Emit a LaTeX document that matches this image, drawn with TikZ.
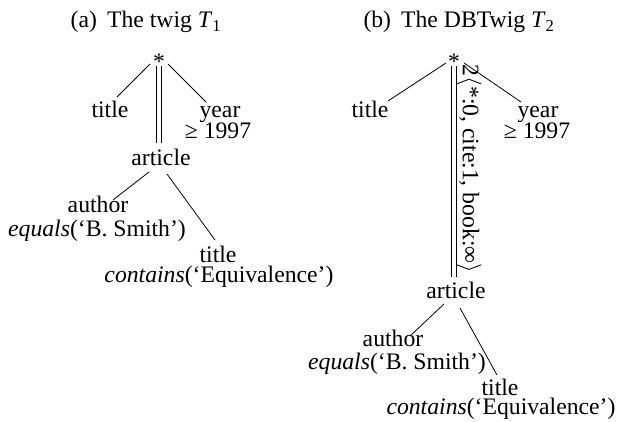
\documentclass[tikz,border=0pt]{standalone}
\usepackage{fontspec}
\setmainfont{Liberation Serif}
\usetikzlibrary{calc}
\begin{document}
\begin{tikzpicture}[x=1pt,y=-1pt,
  txt/.style={anchor=base,inner sep=0pt,font=\fontsize{23.7}{20}\selectfont},
  edge/.style={line width=0.8pt},
  dbl/.style={double,double distance=3.6pt,line width=0.8pt}]
\useasboundingbox (0,0) rectangle (618,422);
% ---------- (a) ----------
\node[txt] (capA) at (146,28) {(a)\hspace{10pt}The twig \textit{T}\textsubscript{1}};
\node[txt] (starA) at (159,70) {*};
\node[txt] (titleA) at (110,118) {title};
\node[txt] (yearA) at (220,118) {year};
\node[txt] (geqA) at (218,139) {≥ 1997};
\node[txt] (artA) at (161,166) {article};
\node[txt] (authA) at (98,212) {author};
\node[txt] (eqA) at (97,236) {\textit{equals}(‘B. Smith’)};
\node[txt] (titA2) at (218,262) {title};
\node[txt] (conA) at (219,282) {\textit{contains}(‘Equivalence’)};
\draw[edge] ($(starA.base)+(-9,-6)$) -- ($(titleA.base)+(7,-21)$);
\draw[edge] ($(starA.base)+(9,-6)$) -- ($(yearA.base)+(-14,-16)$);
\draw[dbl] ($(starA.base)+(0,-4)$) -- ($(artA.base)+(-2,-23)$);
\draw[edge] ($(artA.base)+(-12,6)$) -- ($(authA.base)+(15,-12)$);
\draw[edge] ($(artA.base)+(6,8)$) -- ($(titA2.base)+(-3,-22)$);
% ---------- (b) ----------
\node[txt] (capB) at (459,28) {(b)\hspace{10pt}The DBTwig \textit{T}\textsubscript{2}};
\node[txt] (starB) at (454,70) {*};
\node[txt] (titleB) at (370,118) {title};
\node[txt] (yearB) at (538,118) {year};
\node[txt] (geqB) at (537,139) {≥ 1997};
\node[txt] (artB) at (456,298) {article};
\node[txt] (authB) at (393,346) {author};
\node[txt] (eqB) at (397,369) {\textit{equals}(‘B. Smith’)};
\node[txt] (titB2) at (500,395) {title};
\node[txt] (conB) at (501,414) {\textit{contains}(‘Equivalence’)};
\draw[edge] ($(starB.base)+(-8,-7)$) -- ($(titleB.base)+(18,-17)$);
\draw[edge] ($(starB.base)+(10,-7)$) -- ($(yearB.base)+(-17,-16)$);
\draw[dbl] ($(starB.base)+(0,-4)$) -- ($(artB.base)+(-2,-21)$);
\node[txt,anchor=center,rotate=-90] (lbl) at (469,169) {2$\langle$*:0, cite:1, book:∞$\rangle$};
\draw[edge] ($(artB.base)+(-12,6)$) -- ($(authB.base)+(17,-10)$);
\draw[edge] ($(artB.base)+(4,10)$) -- ($(titB2.base)+(-3,-20)$);
\end{tikzpicture}
\end{document}
